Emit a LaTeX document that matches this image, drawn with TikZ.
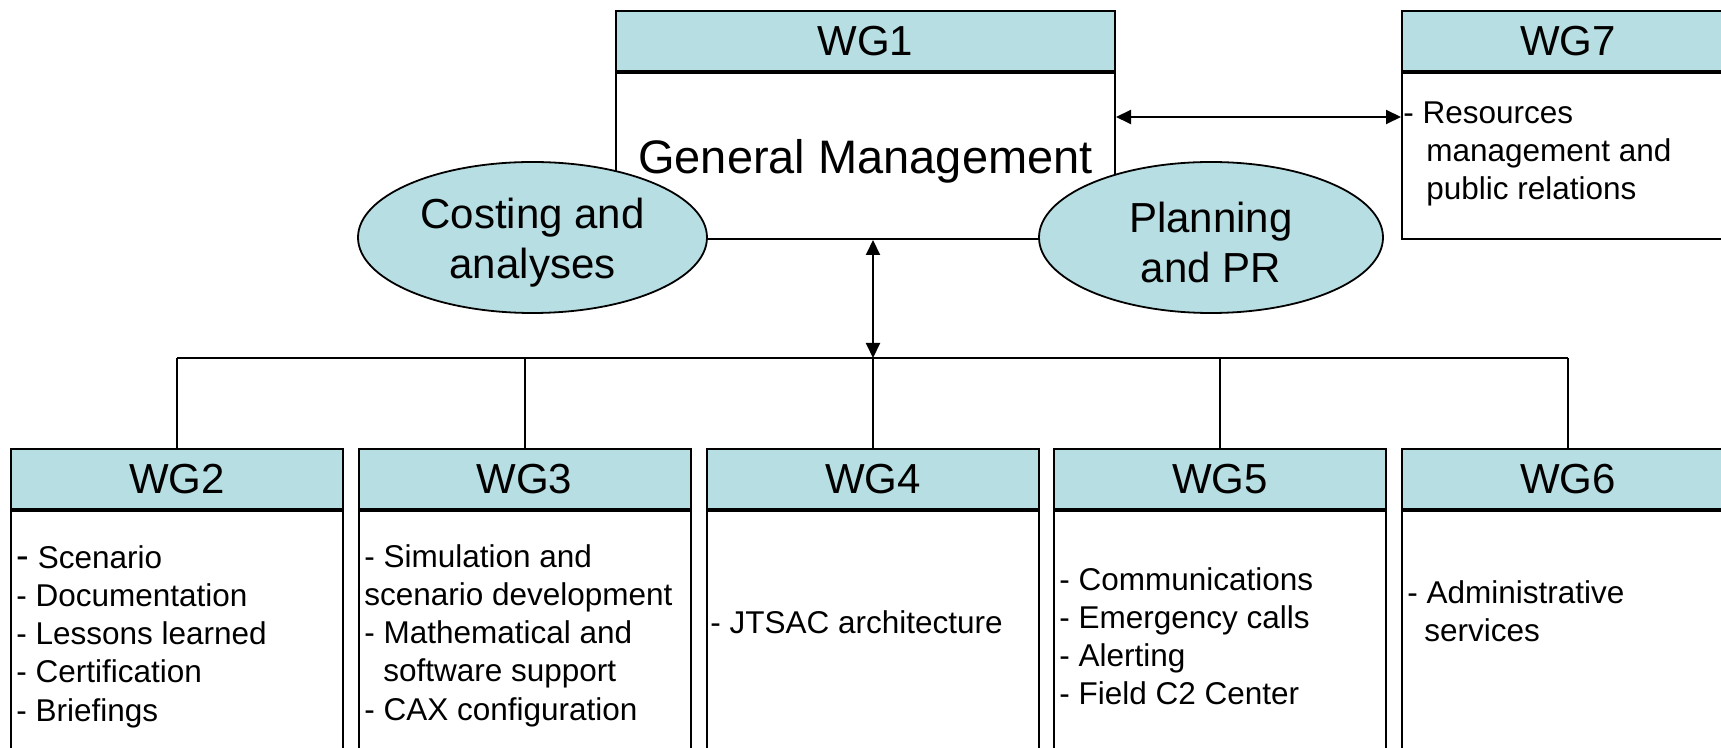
\documentclass[tikz,border=0pt]{standalone}
\usepackage{fontspec}
\setmainfont{Liberation Sans}
\usetikzlibrary{shapes.geometric,arrows.meta}
\definecolor{wgblue}{RGB}{183,222,226}
\newcommand{\hs}{\rule{0pt}{12pt}}
\newcommand{\eh}{\rule{0pt}{20.5pt}}
\begin{document}
\begin{tikzpicture}[x=0.5pt,y=-0.5pt,
  wghead/.style={draw=black, line width=1pt, fill=wgblue, minimum height=30pt, inner sep=0pt, font=\fontsize{21}{25}\selectfont},
  wgbody/.style={draw=black, line width=1pt, fill=white, inner sep=0pt},
  ell/.style={ellipse, draw=black, line width=0.9pt, fill=wgblue, inner sep=0pt, align=center, font=\fontsize{21}{25}\selectfont},
  items/.style={anchor=north west, inner sep=0pt, align=left, font=\fontsize{15.75}{19.1}\selectfont},
  conn/.style={draw=black, line width=1pt},
  biarrow/.style={{Triangle[length=7.5pt,width=7pt]}-{Triangle[length=7.5pt,width=7pt]}, line width=1pt}]
\useasboundingbox (0,0) rectangle (1721,748);
\clip (0,0) rectangle (1721,748);
\fill[white] (0,0) rectangle (1721,748);
\coordinate (hb) at (0,358);
\coordinate (ay) at (0,117);
% WG1
\node[wghead, minimum width=249.5pt] (g1h) at (865.5,41) {WG1};
\node[wgbody, minimum width=249.5pt, minimum height=83pt, anchor=north, text depth=0pt, font=\fontsize{23.5}{28}\selectfont] (g1b) at (g1h.south) {General Management};
% WG7
\node[wghead, minimum width=166pt] (g7h) at (1568,41) {WG7};
\node[wgbody, minimum width=166pt, minimum height=83pt, anchor=north] (g7b) at (g7h.south) {};
\node[items] (t7) at (1403,99) {\hs- Resources\\\hspace*{11.5pt}management and\\\hspace*{11.5pt}public relations};
% ellipses
\node[ell, minimum width=174.5pt, minimum height=75.5pt] (e1) at (532.5,237.5) {\eh Costing and\\analyses};
\node[ell, minimum width=172pt, minimum height=75.5pt] (e2) at (1211,237.5) {\eh Planning\\and PR};
% bottom boxes
\node[wghead, minimum width=166pt] (g2h) at (177,479) {WG2};
\node[wgbody, minimum width=166pt, minimum height=160pt, anchor=north] (g2b) at (g2h.south) {};
\node[wghead, minimum width=166pt] (g3h) at (524.5,479) {WG3};
\node[wgbody, minimum width=166pt, minimum height=160pt, anchor=north] (g3b) at (g3h.south) {};
\node[wghead, minimum width=166pt] (g4h) at (873,479) {WG4};
\node[wgbody, minimum width=166pt, minimum height=160pt, anchor=north] (g4b) at (g4h.south) {};
\node[wghead, minimum width=166pt] (g5h) at (1220,479) {WG5};
\node[wgbody, minimum width=166pt, minimum height=160pt, anchor=north] (g5b) at (g5h.south) {};
\node[wghead, minimum width=166pt] (g6h) at (1568,479) {WG6};
\node[wgbody, minimum width=166pt, minimum height=160pt, anchor=north] (g6b) at (g6h.south) {};
% texts
\node[items] (t2) at (16,544) {\hs{\fontsize{19}{19}\selectfont -} Scenario\\- Documentation\\- Lessons learned\\- Certification\\- Briefings};
\node[items] (t3) at (364,543) {\hs- Simulation and\\scenario development\\- Mathematical and\\\hspace*{9.5pt}software support\\- CAX configuration};
\node[items] (t4) at (710,609) {\hs- JTSAC architecture};
\node[items] (t5) at (1059,566) {\hs- Communications\\- Emergency calls\\- Alerting\\- Field C2 Center};
\node[items] (t6) at (1407,579) {\hs- Administrative\\\hspace*{8.5pt}services};
% connectors
\draw[conn] (g2h.north |- hb) -- (g6h.north |- hb);
\foreach \n in {g2h,g3h,g4h,g5h,g6h} \draw[conn] (\n.north |- hb) -- (\n.north);
\draw[biarrow] (g1b.south -| g4h.north) -- (g4h.north |- hb);
\draw[biarrow] (g1b.east |- ay) -- (g7b.west |- ay);
\end{tikzpicture}
\end{document}
